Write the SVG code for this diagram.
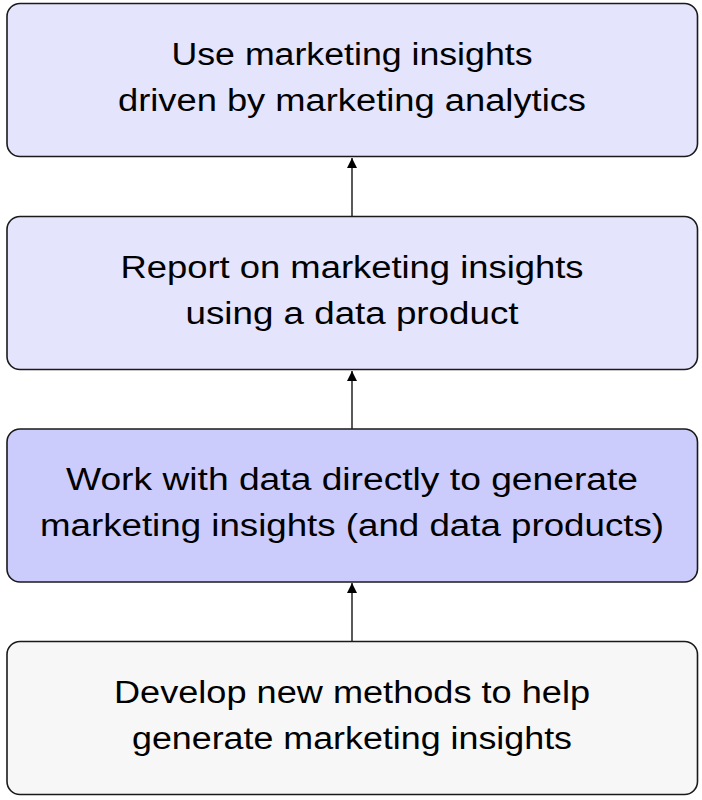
<svg xmlns="http://www.w3.org/2000/svg" width="702" height="800" viewBox="0 0 702 800">
<defs>
<style>
.box{stroke:#1a1a1a;stroke-width:1.6}
.t{font-family:"Liberation Sans","DejaVu Sans",sans-serif;font-size:31px;fill:#000;text-anchor:middle}
.c{stroke:#000;stroke-width:1.3;fill:none}
</style>
<marker id="ah" viewBox="0 0 10 10" refX="10" refY="5" markerWidth="10" markerHeight="10" markerUnits="userSpaceOnUse" orient="auto">
<path d="M0,0 L10,5 L0,10 z" fill="#000"/>
</marker>
</defs>
<g id="connectors">
<line class="c" x1="352" y1="216" x2="352" y2="158" marker-end="url(#ah)"/>
<line class="c" x1="352" y1="429" x2="352" y2="371" marker-end="url(#ah)"/>
<line class="c" x1="352" y1="641" x2="352" y2="583" marker-end="url(#ah)"/>
</g>
<g id="n1">
<rect class="box" x="7" y="3.5" width="690.5" height="153" rx="13" fill="#e4e4fc"/>
<text class="t" x="352" y="65" textLength="361" lengthAdjust="spacingAndGlyphs">Use marketing insights</text>
<text class="t" x="352" y="111" textLength="468" lengthAdjust="spacingAndGlyphs">driven by marketing analytics</text>
</g>
<g id="n2">
<rect class="box" x="7" y="216.5" width="690.5" height="153" rx="13" fill="#e4e4fc"/>
<text class="t" x="352" y="278" textLength="463" lengthAdjust="spacingAndGlyphs">Report on marketing insights</text>
<text class="t" x="352" y="324" textLength="333" lengthAdjust="spacingAndGlyphs">using a data product</text>
</g>
<g id="n3">
<rect class="box" x="7" y="429" width="690.5" height="153" rx="13" fill="#ccccfc"/>
<text class="t" x="352" y="490" textLength="572" lengthAdjust="spacingAndGlyphs">Work with data directly to generate</text>
<text class="t" x="352" y="536" textLength="624" lengthAdjust="spacingAndGlyphs">marketing insights (and data products)</text>
</g>
<g id="n4">
<rect class="box" x="7" y="641.5" width="690.5" height="153" rx="13" fill="#f7f7f7"/>
<text class="t" x="352" y="703" textLength="476" lengthAdjust="spacingAndGlyphs">Develop new methods to help</text>
<text class="t" x="352" y="749" textLength="440" lengthAdjust="spacingAndGlyphs">generate marketing insights</text>
</g>
</svg>
